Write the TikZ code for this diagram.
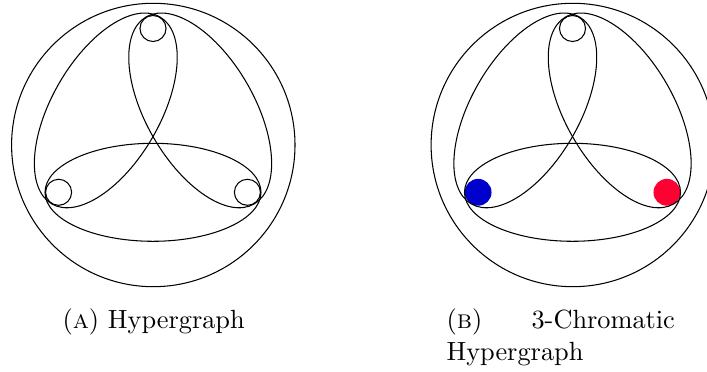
\documentclass[tikz,border=0pt]{standalone}
\definecolor{vblue}{RGB}{0,0,204}
\definecolor{vred}{RGB}{255,0,51}
\begin{document}
\begin{tikzpicture}[x=0.38pt,y=-0.38pt,
  vertex/.style={circle,draw,inner sep=0pt,minimum size=9.9pt},
  cvertex/.style={circle,fill=#1,inner sep=0pt,minimum size=10.2pt},
  hedge/.style={draw,line width=0.4pt},
  caption/.style={anchor=base west,inner sep=0pt,font=\normalsize}]
\useasboundingbox (0,0) rectangle (707,372);
\clip (0,0) rectangle (707,372);
% ---------- (a) ----------
\begin{scope}
  \draw[hedge] (153.3,145) circle (141.7);
  \node[vertex] (tA) at (153,28.5) {};
  \node[vertex] (lA) at (58.6,192.3) {};
  \node[vertex] (rA) at (247.4,192.3) {};
  \draw[hedge] (153,192.3) ellipse (108 and 49);
  \draw[hedge,rotate around={-60:(200.2,110.4)}] (200.2,110.4) ellipse (108 and 54);
  \draw[hedge,rotate around={60:(105.8,110.4)}] (105.8,110.4) ellipse (108 and 54);
\end{scope}
% ---------- (b) ----------
\begin{scope}[shift={(419.5,0)}]
  \draw[hedge] (153.3,145) circle (141.7);
  \node[vertex] (tB) at (153,28.5) {};
  \node[cvertex=vblue] (lB) at (58.6,192.3) {};
  \node[cvertex=vred] (rB) at (247.4,192.3) {};
  \draw[hedge] (153,192.3) ellipse (108 and 49);
  \draw[hedge,rotate around={-60:(200.2,110.4)}] (200.2,110.4) ellipse (108 and 54);
  \draw[hedge,rotate around={60:(105.8,110.4)}] (105.8,110.4) ellipse (108 and 54);
\end{scope}
% ---------- captions ----------
\node[caption] (capA) at (62,328.5) {(\textsc{a}) Hypergraph};
\node[caption] (capB) at (446,328.5) {\parbox[t]{86.8pt}{(\textsc{b})\hfill 3-Chromatic\\Hypergraph}};
\end{tikzpicture}
\end{document}
